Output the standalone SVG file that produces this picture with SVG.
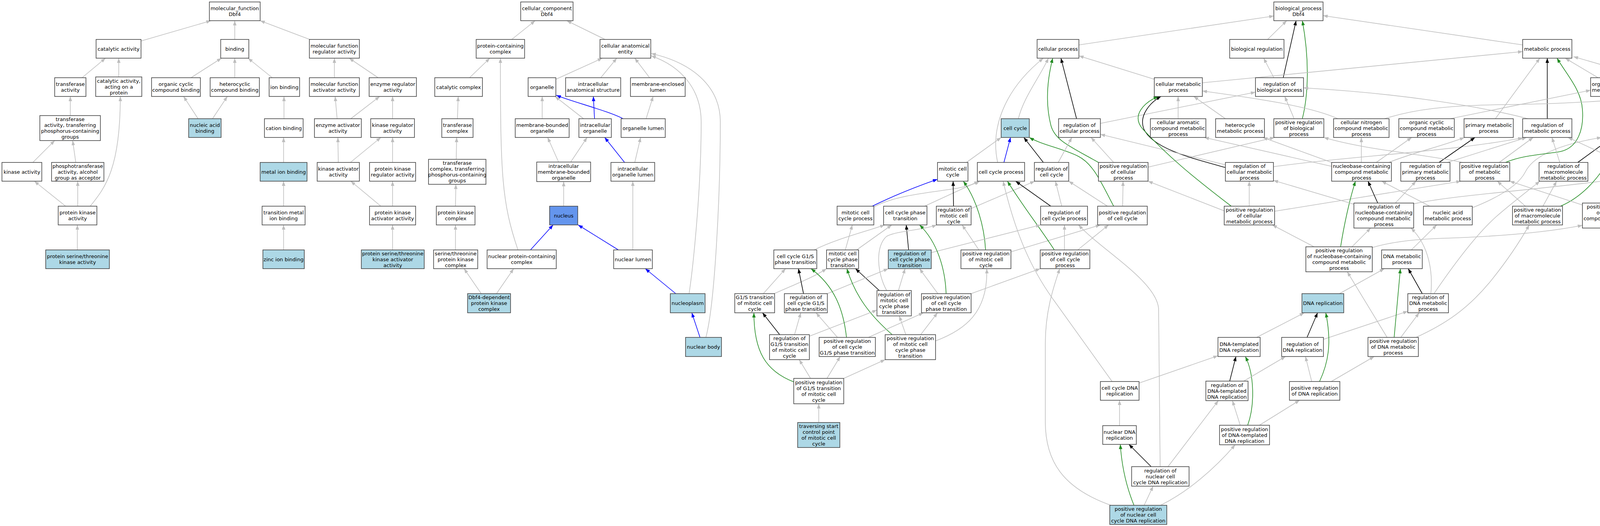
<svg xmlns="http://www.w3.org/2000/svg" width="4360" height="1347" viewBox="0 0 4360 1347">
<style>
.n rect{fill:#fff;stroke:#444;stroke-width:1.6}
.n.bl rect{fill:#add8e6}
.n.nu rect{fill:#6495ed}
text{font-family:"DejaVu Sans",sans-serif;font-size:13px;text-anchor:middle;fill:#000}
#edges path{fill:none;stroke-width:1.6}
#edges .g{stroke:#bebebe;marker-end:url(#mg)}
#edges .k{stroke:#000;marker-end:url(#mk)}
#edges .b{stroke:#0000ff;marker-end:url(#mb)}
#edges .gr{stroke:#228b22;marker-end:url(#mgr)}
</style>
<defs>
<marker id="mg" viewBox="0 0 12 9" refX="12" refY="4.5" markerWidth="12" markerHeight="9" markerUnits="userSpaceOnUse" orient="auto"><path d="M0,0 L12,4.5 L0,9 z" fill="#bebebe"/></marker>
<marker id="mk" viewBox="0 0 12 9" refX="12" refY="4.5" markerWidth="12" markerHeight="9" markerUnits="userSpaceOnUse" orient="auto"><path d="M0,0 L12,4.5 L0,9 z" fill="#000"/></marker>
<marker id="mb" viewBox="0 0 12 9" refX="12" refY="4.5" markerWidth="12" markerHeight="9" markerUnits="userSpaceOnUse" orient="auto"><path d="M0,0 L12,4.5 L0,9 z" fill="#0000ff"/></marker>
<marker id="mgr" viewBox="0 0 12 9" refX="12" refY="4.5" markerWidth="12" markerHeight="9" markerUnits="userSpaceOnUse" orient="auto"><path d="M0,0 L12,4.5 L0,9 z" fill="#228b22"/></marker>
</defs>
<rect width="4360" height="1347" fill="#fff"/>
<g id="edges">
<path class="g" d="M361,105 L540,53"/>
<path class="g" d="M601,101 L601,53"/>
<path class="g" d="M793,101 L666,53"/>
<path class="g" d="M210,199 L270,149"/>
<path class="g" d="M304,197 L304,149"/>
<path class="g" d="M489,199 L567,149"/>
<path class="g" d="M601,199 L601,149"/>
<path class="g" d="M697,199 L635,149"/>
<path class="g" d="M856,199 L856,149"/>
<path class="g" d="M968,199 L894,149"/>
<path class="g" d="M180,296 L180,247"/>
<path class="g" d="M507,304 L470,247"/>
<path class="g" d="M544,304 L582,247"/>
<path class="g" d="M727,304 L727,247"/>
<path class="g" d="M863,304 L858,247"/>
<path class="g" d="M898,304 L972,247"/>
<path class="g" d="M1005,304 L1005,247"/>
<path class="g" d="M84,416 L140,360"/>
<path class="g" d="M194,416 L186,360"/>
<path class="g" d="M726,416 L726,352"/>
<path class="g" d="M866,416 L865,352"/>
<path class="g" d="M897,416 L975,352"/>
<path class="g" d="M1005,416 L1005,352"/>
<path class="g" d="M168,528 L88,464"/>
<path class="g" d="M199,528 L199,464"/>
<path class="g" d="M231,528 C270,480 308,430 308,247"/>
<path class="g" d="M975,528 L898,464"/>
<path class="g" d="M1005,528 L1005,464"/>
<path class="g" d="M726,528 L726,464"/>
<path class="g" d="M198,640 L198,576"/>
<path class="g" d="M726,640 L726,576"/>
<path class="g" d="M1005,640 L1005,576"/>
<path class="g" d="M1310,101 L1370,53"/>
<path class="g" d="M1549,101 L1451,53"/>
<path class="g" d="M1202,199 L1254,149"/>
<path class="g" d="M1423,203 L1542,149"/>
<path class="g" d="M1538,199 L1579,149"/>
<path class="g" d="M1663,199 L1625,149"/>
<path class="g" d="M1171,304 L1173,247"/>
<path class="g" d="M1388,304 L1388,247"/>
<path class="g" d="M1494,304 L1421,247"/>
<path class="b" d="M1522,304 L1519,247"/>
<path class="b" d="M1595,304 C1560,285 1470,262 1424,244"/>
<path class="g" d="M1654,304 L1672,247"/>
<path class="g" d="M1168,408 L1169,352"/>
<path class="g" d="M1430,415 L1402,352"/>
<path class="g" d="M1461,415 L1503,352"/>
<path class="b" d="M1599,416 L1548,352"/>
<path class="g" d="M1625,416 L1640,352"/>
<path class="g" d="M1166,528 L1167,472"/>
<path class="g" d="M1443,528 L1443,465"/>
<path class="g" d="M1166,640 L1166,576"/>
<path class="g" d="M1326,640 C1285,520 1281,450 1281,149"/>
<path class="b" d="M1358,640 L1416,576"/>
<path class="b" d="M1583,640 L1480,576"/>
<path class="g" d="M1620,640 L1620,464"/>
<path class="g" d="M1232,752 L1188,688"/>
<path class="g" d="M1271,752 L1315,688"/>
<path class="b" d="M1730,752 L1652,688"/>
<path class="g" d="M1764,752 C1772,700 1795,500 1795,312 C1795,230 1745,170 1667,143"/>
<path class="b" d="M1792,864 L1771,801"/>
<path class="g" d="M1807,864 C1830,780 1844,500 1844,312 C1844,220 1770,160 1667,137"/>
<path class="g" d="M2762,115 L3261,41"/>
<path class="g" d="M3245,101 L3294,53"/>
<path class="g" d="M3898,115 L3387,40"/>
<path class="k" d="M3285,199 L3318,53"/>
<path class="g" d="M3261,199 L3235,149"/>
<path class="gr" d="M3334,304 C3350,240 3352,150 3334,53"/>
<path class="g" d="M3313,304 L3289,247"/>
<path class="g" d="M2955,203 L2762,143"/>
<path class="g" d="M3078,212 L3898,132"/>
<path class="g" d="M2607,304 C2620,250 2660,200 2684,149"/>
<path class="k" d="M2756,304 L2716,149"/>
<path class="g" d="M2817,316 L3214,236"/>
<path class="g" d="M3016,304 L3016,247"/>
<path class="g" d="M3137,304 L3056,247"/>
<path class="gr" d="M2812,416 C2740,375 2700,360 2690,320 C2675,260 2682,200 2695,149"/>
<path class="gr" d="M2851,528 C2820,470 2800,420 2760,400 C2720,380 2670,372 2635,352"/>
<path class="g" d="M2851,416 L2793,352"/>
<path class="g" d="M2939,428 L3263,352"/>
<path class="k" d="M3137,429 C3050,405 2950,380 2928,330 C2915,295 2945,262 2972,247"/>
<path class="g" d="M3137,422 L2817,344"/>
<path class="g" d="M3260,427 C3450,400 3700,390 3898,353"/>
<path class="g" d="M3198,528 L3198,464"/>
<path class="g" d="M3134,540 L2939,464"/>
<path class="gr" d="M3152,528 C3050,450 2990,400 2925,330 C2895,295 2930,262 2965,247"/>
<path class="g" d="M3263,541 L3740,464"/>
<path class="g" d="M2474,416 L2563,352"/>
<path class="b" d="M2570,416 L2587,352"/>
<path class="g" d="M2554,416 C2535,330 2570,230 2671,149"/>
<path class="k" d="M2671,416 L2621,352"/>
<path class="g" d="M2709,416 L2744,352"/>
<path class="g" d="M2835,528 L2736,464"/>
<path class="g" d="M2874,528 L2875,464"/>
<path class="b" d="M2233,528 C2290,500 2340,480 2400,459"/>
<path class="g" d="M2237,530 C2300,495 2420,490 2460,480 C2485,475 2497,470 2508,464"/>
<path class="g" d="M2367,528 L2506,464"/>
<path class="k" d="M2441,528 L2440,464"/>
<path class="g" d="M2486,534 L2649,464"/>
<path class="k" d="M2690,528 L2600,464"/>
<path class="g" d="M2718,528 L2702,464"/>
<path class="gr" d="M2523,640 C2520,580 2500,510 2466,464"/>
<path class="g" d="M2506,640 L2463,576"/>
<path class="g" d="M2588,645 L2817,576"/>
<path class="gr" d="M2699,640 C2660,580 2620,530 2579,464"/>
<path class="g" d="M2725,640 L2725,576"/>
<path class="g" d="M2759,640 L2838,576"/>
<path class="g" d="M2084,640 C2140,612 2210,595 2265,576"/>
<path class="g" d="M2193,640 L2283,576"/>
<path class="g" d="M2164,640 L2182,576"/>
<path class="k" d="M2326,640 L2320,576"/>
<path class="g" d="M2384,647 L2664,576"/>
<path class="k" d="M2251,744 L2190,688"/>
<path class="g" d="M2300,744 L2317,688"/>
<path class="g" d="M2270,744 C2245,700 2240,630 2270,605 C2300,590 2360,590 2398,576"/>
<path class="gr" d="M2422,752 C2420,690 2400,620 2354,576"/>
<path class="g" d="M2401,752 L2354,688"/>
<path class="g" d="M2486,752 L2663,688"/>
<path class="g" d="M1954,752 L2011,688"/>
<path class="g" d="M1982,752 C2030,730 2080,712 2116,688"/>
<path class="k" d="M2057,752 L2044,688"/>
<path class="g" d="M2118,752 L2274,688"/>
<path class="gr" d="M2284,857 C2230,810 2190,760 2168,688"/>
<path class="g" d="M2319,857 L2302,809"/>
<path class="g" d="M2357,857 L2400,801"/>
<path class="g" d="M2395,873 C2470,845 2530,800 2526,688"/>
<path class="k" d="M1996,857 L1952,801"/>
<path class="g" d="M2034,857 L2050,801"/>
<path class="g" d="M2072,861 L2245,794"/>
<path class="gr" d="M2167,864 C2160,800 2140,735 2076,688"/>
<path class="g" d="M2144,864 L2089,801"/>
<path class="g" d="M2223,864 L2364,801"/>
<path class="gr" d="M2032,978 C1960,950 1930,900 1930,801"/>
<path class="g" d="M2075,969 L2046,921"/>
<path class="g" d="M2117,969 L2151,913"/>
<path class="g" d="M2160,969 L2266,921"/>
<path class="g" d="M2096,1082 L2096,1034"/>
<path class="g" d="M2847,977 L2700,772 C2640,690 2600,600 2568,464"/>
<path class="g" d="M2866,1090 L2866,1025"/>
<path class="g" d="M2916,981 L3118,911"/>
<path class="k" d="M3148,976 L3164,913"/>
<path class="gr" d="M3194,1089 C3212,1040 3212,960 3188,913"/>
<path class="g" d="M3175,1089 L3155,1026"/>
<path class="k" d="M2947,1195 L2890,1138"/>
<path class="g" d="M2990,1195 L3119,1026"/>
<path class="g" d="M2970,1195 L2966,790 C2960,720 2820,640 2761,576"/>
<path class="gr" d="M2903,1294 C2885,1250 2872,1200 2868,1138"/>
<path class="g" d="M2929,1294 L2952,1245"/>
<path class="g" d="M2971,1294 C3040,1260 3110,1200 3162,1139"/>
<path class="g" d="M2844,1294 C2720,1250 2676,1180 2676,1080 L2676,880 C2676,800 2695,740 2713,688"/>
<path class="g" d="M3217,864 L3339,801"/>
<path class="g" d="M3184,976 L3291,913"/>
<path class="g" d="M3224,1089 L3327,1025"/>
<path class="k" d="M3346,864 L3373,801"/>
<path class="g" d="M3388,869 L3604,797"/>
<path class="gr" d="M3378,977 C3400,930 3410,880 3394,801"/>
<path class="g" d="M3358,977 L3342,913"/>
<path class="g" d="M3408,977 L3518,913"/>
<path class="g" d="M3429,752 L3544,688"/>
<path class="k" d="M3641,752 L3605,688"/>
<path class="gr" d="M3569,864 L3585,688"/>
<path class="g" d="M3586,864 L3633,801"/>
<path class="g" d="M3551,864 L3449,696"/>
<path class="g" d="M3625,864 C3700,830 3760,790 3820,715 C3860,665 3890,620 3915,576"/>
<path class="g" d="M3671,752 C3720,680 3780,600 3830,555 C3870,520 3910,490 3942,464"/>
<path class="g" d="M3663,752 C3668,700 3660,630 3612,584"/>
<path class="g" d="M3613,640 L3678,576"/>
<path class="gr" d="M3432,632 C3440,580 3455,510 3470,464"/>
<path class="g" d="M3461,632 L3509,584"/>
<path class="g" d="M3364,632 L3257,576"/>
<path class="g" d="M3513,634 C3560,620 3620,612 3700,610 C3850,605 3960,595 4051,577"/>
<path class="k" d="M3527,520 L3502,464"/>
<path class="g" d="M3466,523 L3260,462"/>
<path class="g" d="M3572,520 L3625,464"/>
<path class="g" d="M3619,522 C3720,500 3900,490 4140,459"/>
<path class="g" d="M3660,528 L3537,464"/>
<path class="g" d="M3769,532 C3850,500 3890,470 3905,440 C3925,400 3990,370 4100,352"/>
<path class="gr" d="M3995,528 C4060,500 4110,440 4148,352"/>
<path class="g" d="M3950,528 L3985,464"/>
<path class="g" d="M3905,528 L3833,464"/>
<path class="gr" d="M4194,534 C4280,500 4320,440 4320,370 C4320,320 4310,280 4298,247"/>
<path class="g" d="M4147,520 L4186,464"/>
<path class="g" d="M4051,525 L3865,464"/>
<path class="g" d="M4091,199 L4007,149"/>
<path class="g" d="M4221,201 L4028,145"/>
<path class="g" d="M3828,304 L3942,149"/>
<path class="k" d="M3961,304 L3961,149"/>
<path class="gr" d="M3854,416 C3900,396 3960,395 3995,388 C4040,378 4055,330 4051,280 C4048,230 4010,190 3986,149"/>
<path class="g" d="M3912,304 C3800,275 3600,240 3337,225"/>
<path class="g" d="M3425,304 C3350,270 3200,250 3078,233"/>
<path class="g" d="M3544,304 C3620,280 3700,270 3850,268 C4000,266 4150,258 4222,246"/>
<path class="g" d="M3712,304 L4072,231"/>
<path class="g" d="M4154,304 L4142,247"/>
<path class="k" d="M3684,416 L3776,352"/>
<path class="g" d="M3705,416 L3908,352"/>
<path class="k" d="M4039,416 L4127,352"/>
<path class="g" d="M3993,416 L3973,352"/>
<path class="k" d="M4216,416 L4276,247"/>
<path class="g" d="M4153,416 L4014,352"/>
<path class="g" d="M3838,416 L3925,352"/>
<path class="g" d="M3744,416 C3650,395 3500,385 3389,352"/>
<path class="g" d="M3485,416 L3485,352"/>
<path class="g" d="M3523,416 L3614,352"/>
<path class="g" d="M3555,416 C3620,390 3690,375 3749,352"/>
<path class="g" d="M3409,426 L3083,352"/>
<path class="g" d="M3409,416 L3233,352"/>
</g>
<g id="n_mf" class="n"><rect x="536" y="5" width="130" height="48"/><text x="601" y="26"><tspan x="601">molecular_function</tspan><tspan x="601" dy="15">Dbf4</tspan></text></g>
<g id="n_catalytic" class="n"><rect x="246" y="101" width="115" height="48"/><text x="303.5" y="129.5">catalytic activity</text></g>
<g id="n_binding" class="n"><rect x="565" y="101" width="72" height="48"/><text x="601" y="129.5">binding</text></g>
<g id="n_mfreg" class="n"><rect x="792" y="101" width="128" height="48"/><text x="856" y="122"><tspan x="856">molecular function</tspan><tspan x="856" dy="15">regulator activity</tspan></text></g>
<g id="n_transferase" class="n"><rect x="140" y="199" width="80" height="48"/><text x="180" y="220"><tspan x="180">transferase</tspan><tspan x="180" dy="15">activity</tspan></text></g>
<g id="n_catprot" class="n"><rect x="245" y="197" width="118" height="50"/><text x="304" y="211.5"><tspan x="304">catalytic activity,</tspan><tspan x="304" dy="15">acting on a</tspan><tspan x="304" dy="15">protein</tspan></text></g>
<g id="n_orgcycbind" class="n"><rect x="388" y="199" width="125" height="48"/><text x="450.5" y="220"><tspan x="450.5">organic cyclic</tspan><tspan x="450.5" dy="15">compound binding</tspan></text></g>
<g id="n_hetcycbind" class="n"><rect x="538" y="199" width="126" height="48"/><text x="601" y="220"><tspan x="601">heterocyclic</tspan><tspan x="601" dy="15">compound binding</tspan></text></g>
<g id="n_ionbind" class="n"><rect x="689" y="199" width="78" height="48"/><text x="728" y="227.5">ion binding</text></g>
<g id="n_mfact" class="n"><rect x="792" y="199" width="128" height="48"/><text x="856" y="220"><tspan x="856">molecular function</tspan><tspan x="856" dy="15">activator activity</tspan></text></g>
<g id="n_enzreg" class="n"><rect x="945" y="199" width="121" height="48"/><text x="1005.5" y="220"><tspan x="1005.5">enzyme regulator</tspan><tspan x="1005.5" dy="15">activity</tspan></text></g>
<g id="n_transphos" class="n"><rect x="102" y="296" width="155" height="64"/><text x="179.5" y="310"><tspan x="179.5">transferase</tspan><tspan x="179.5" dy="15">activity, transferring</tspan><tspan x="179.5" dy="15">phosphorus-containing</tspan><tspan x="179.5" dy="15">groups</tspan></text></g>
<g id="n_nucacidbind" class="n bl"><rect x="483" y="304" width="83" height="48"/><text x="524.5" y="325"><tspan x="524.5">nucleic acid</tspan><tspan x="524.5" dy="15">binding</tspan></text></g>
<g id="n_cation" class="n"><rect x="677" y="304" width="99" height="48"/><text x="726.5" y="332.5">cation binding</text></g>
<g id="n_enzact" class="n"><rect x="805" y="304" width="120" height="48"/><text x="865" y="325"><tspan x="865">enzyme activator</tspan><tspan x="865" dy="15">activity</tspan></text></g>
<g id="n_kinreg" class="n"><rect x="949" y="304" width="112" height="48"/><text x="1005" y="325"><tspan x="1005">kinase regulator</tspan><tspan x="1005" dy="15">activity</tspan></text></g>
<g id="n_kinase" class="n"><rect x="5" y="416" width="102" height="48"/><text x="56" y="444.5">kinase activity</text></g>
<g id="n_phosphotrans" class="n"><rect x="132" y="416" width="134" height="48"/><text x="199" y="429.5"><tspan x="199">phosphotransferase</tspan><tspan x="199" dy="15">activity, alcohol</tspan><tspan x="199" dy="15">group as acceptor</tspan></text></g>
<g id="n_metal" class="n bl"><rect x="666" y="416" width="120" height="48"/><text x="726" y="444.5">metal ion binding</text></g>
<g id="n_kinact" class="n"><rect x="812" y="416" width="108" height="48"/><text x="866" y="437"><tspan x="866">kinase activator</tspan><tspan x="866" dy="15">activity</tspan></text></g>
<g id="n_pkreg" class="n"><rect x="946" y="416" width="118" height="48"/><text x="1005" y="437"><tspan x="1005">protein kinase</tspan><tspan x="1005" dy="15">regulator activity</tspan></text></g>
<g id="n_pk" class="n"><rect x="149" y="528" width="99" height="48"/><text x="198.5" y="549"><tspan x="198.5">protein kinase</tspan><tspan x="198.5" dy="15">activity</tspan></text></g>
<g id="n_transmetal" class="n"><rect x="671" y="528" width="110" height="48"/><text x="726" y="549"><tspan x="726">transition metal</tspan><tspan x="726" dy="15">ion binding</tspan></text></g>
<g id="n_pkact" class="n"><rect x="946" y="528" width="118" height="48"/><text x="1005" y="549"><tspan x="1005">protein kinase</tspan><tspan x="1005" dy="15">activator activity</tspan></text></g>
<g id="n_pstk" class="n bl"><rect x="117" y="640" width="163" height="48"/><text x="198.5" y="661"><tspan x="198.5">protein serine/threonine</tspan><tspan x="198.5" dy="15">kinase activity</tspan></text></g>
<g id="n_zinc" class="n bl"><rect x="673" y="640" width="106" height="48"/><text x="726" y="668.5">zinc ion binding</text></g>
<g id="n_pstkact" class="n bl"><rect x="925" y="640" width="161" height="48"/><text x="1005.5" y="653.5"><tspan x="1005.5">protein serine/threonine</tspan><tspan x="1005.5" dy="15">kinase activator</tspan><tspan x="1005.5" dy="15">activity</tspan></text></g>
<g id="n_cc_root" class="n"><rect x="1333" y="5" width="134" height="48"/><text x="1400" y="26"><tspan x="1400">cellular_component</tspan><tspan x="1400" dy="15">Dbf4</tspan></text></g>
<g id="n_pcc" class="n"><rect x="1219" y="101" width="124" height="48"/><text x="1281" y="122"><tspan x="1281">protein-containing</tspan><tspan x="1281" dy="15">complex</tspan></text></g>
<g id="n_cae" class="n"><rect x="1536" y="101" width="130" height="48"/><text x="1601" y="122"><tspan x="1601">cellular anatomical</tspan><tspan x="1601" dy="15">entity</tspan></text></g>
<g id="n_catcomplex" class="n"><rect x="1113" y="199" width="122" height="48"/><text x="1174" y="227.5">catalytic complex</text></g>
<g id="n_organelle" class="n"><rect x="1352" y="199" width="71" height="48"/><text x="1387.5" y="227.5">organelle</text></g>
<g id="n_ias" class="n"><rect x="1448" y="199" width="141" height="48"/><text x="1518.5" y="220"><tspan x="1518.5">intracellular</tspan><tspan x="1518.5" dy="15">anatomical structure</tspan></text></g>
<g id="n_mel" class="n"><rect x="1614" y="199" width="140" height="48"/><text x="1684" y="220"><tspan x="1684">membrane-enclosed</tspan><tspan x="1684" dy="15">lumen</tspan></text></g>
<g id="n_transcomplex" class="n"><rect x="1131" y="304" width="80" height="48"/><text x="1171" y="325"><tspan x="1171">transferase</tspan><tspan x="1171" dy="15">complex</tspan></text></g>
<g id="n_mbo" class="n"><rect x="1319" y="304" width="138" height="48"/><text x="1388" y="325"><tspan x="1388">membrane-bounded</tspan><tspan x="1388" dy="15">organelle</tspan></text></g>
<g id="n_io" class="n"><rect x="1482" y="304" width="83" height="48"/><text x="1523.5" y="325"><tspan x="1523.5">intracellular</tspan><tspan x="1523.5" dy="15">organelle</tspan></text></g>
<g id="n_ol" class="n"><rect x="1590" y="304" width="113" height="48"/><text x="1646.5" y="332.5">organelle lumen</text></g>
<g id="n_tcphos" class="n"><rect x="1097" y="408" width="147" height="64"/><text x="1170.5" y="422"><tspan x="1170.5">transferase</tspan><tspan x="1170.5" dy="15">complex, transferring</tspan><tspan x="1170.5" dy="15">phosphorus-containing</tspan><tspan x="1170.5" dy="15">groups</tspan></text></g>
<g id="n_imbo" class="n"><rect x="1374" y="415" width="138" height="50"/><text x="1443" y="429.5"><tspan x="1443">intracellular</tspan><tspan x="1443" dy="15">membrane-bounded</tspan><tspan x="1443" dy="15">organelle</tspan></text></g>
<g id="n_iol" class="n"><rect x="1564" y="416" width="112" height="48"/><text x="1620" y="437"><tspan x="1620">intracellular</tspan><tspan x="1620" dy="15">organelle lumen</tspan></text></g>
<g id="n_pkc" class="n"><rect x="1117" y="528" width="99" height="48"/><text x="1166.5" y="549"><tspan x="1166.5">protein kinase</tspan><tspan x="1166.5" dy="15">complex</tspan></text></g>
<g id="n_nucleus" class="n nu"><rect x="1407" y="528" width="72" height="48"/><text x="1443" y="556.5">nucleus</text></g>
<g id="n_stpkc" class="n"><rect x="1110" y="640" width="113" height="48"/><text x="1166.5" y="653.5"><tspan x="1166.5">serine/threonine</tspan><tspan x="1166.5" dy="15">protein kinase</tspan><tspan x="1166.5" dy="15">complex</tspan></text></g>
<g id="n_npcc" class="n"><rect x="1247" y="640" width="177" height="48"/><text x="1335.5" y="661"><tspan x="1335.5">nuclear protein-containing</tspan><tspan x="1335.5" dy="15">complex</tspan></text></g>
<g id="n_nlumen" class="n"><rect x="1571" y="640" width="99" height="48"/><text x="1620.5" y="668.5">nuclear lumen</text></g>
<g id="n_dbf4c" class="n bl"><rect x="1197" y="752" width="110" height="49"/><text x="1252" y="766"><tspan x="1252">Dbf4-dependent</tspan><tspan x="1252" dy="15">protein kinase</tspan><tspan x="1252" dy="15">complex</tspan></text></g>
<g id="n_nucleoplasm" class="n bl"><rect x="1716" y="752" width="89" height="49"/><text x="1760.5" y="781">nucleoplasm</text></g>
<g id="n_nbody" class="n bl"><rect x="1755" y="864" width="92" height="49"/><text x="1801" y="893">nuclear body</text></g>
<g id="n_bp_root" class="n"><rect x="3261" y="5" width="126" height="48"/><text x="3324" y="26"><tspan x="3324">biological_process</tspan><tspan x="3324" dy="15">Dbf4</tspan></text></g>
<g id="n_cp" class="n"><rect x="2655" y="101" width="107" height="48"/><text x="2708.5" y="129.5">cellular process</text></g>
<g id="n_bioreg" class="n"><rect x="3148" y="101" width="139" height="48"/><text x="3217.5" y="129.5">biological regulation</text></g>
<g id="n_mp" class="n"><rect x="3898" y="101" width="126" height="48"/><text x="3961" y="129.5">metabolic process</text></g>
<g id="n_cmp" class="n"><rect x="2955" y="199" width="123" height="48"/><text x="3016.5" y="220"><tspan x="3016.5">cellular metabolic</tspan><tspan x="3016.5" dy="15">process</tspan></text></g>
<g id="n_rbp" class="n"><rect x="3214" y="199" width="123" height="48"/><text x="3275.5" y="220"><tspan x="3275.5">regulation of</tspan><tspan x="3275.5" dy="15">biological process</tspan></text></g>
<g id="n_osmp" class="n"><rect x="4072" y="199" width="125" height="48"/><text x="4134.5" y="220"><tspan x="4134.5">organic substance</tspan><tspan x="4134.5" dy="15">metabolic process</tspan></text></g>
<g id="n_ncmp" class="n"><rect x="4222" y="199" width="131" height="48"/><text x="4287.5" y="220"><tspan x="4287.5">nitrogen compound</tspan><tspan x="4287.5" dy="15">metabolic process</tspan></text></g>
<g id="n_cc" class="n bl"><rect x="2563" y="304" width="72" height="48"/><text x="2599" y="332.5">cell cycle</text></g>
<g id="n_rcp" class="n"><rect x="2710" y="304" width="107" height="48"/><text x="2763.5" y="325"><tspan x="2763.5">regulation of</tspan><tspan x="2763.5" dy="15">cellular process</tspan></text></g>
<g id="n_camp" class="n"><rect x="2945" y="304" width="142" height="48"/><text x="3016" y="317.5"><tspan x="3016">cellular aromatic</tspan><tspan x="3016" dy="15">compound metabolic</tspan><tspan x="3016" dy="15">process</tspan></text></g>
<g id="n_hmp" class="n"><rect x="3112" y="304" width="125" height="48"/><text x="3174.5" y="325"><tspan x="3174.5">heterocycle</tspan><tspan x="3174.5" dy="15">metabolic process</tspan></text></g>
<g id="n_prbp" class="n"><rect x="3261" y="304" width="128" height="48"/><text x="3325" y="317.5"><tspan x="3325">positive regulation</tspan><tspan x="3325" dy="15">of biological</tspan><tspan x="3325" dy="15">process</tspan></text></g>
<g id="n_cncmp" class="n"><rect x="3414" y="304" width="142" height="48"/><text x="3485" y="317.5"><tspan x="3485">cellular nitrogen</tspan><tspan x="3485" dy="15">compound metabolic</tspan><tspan x="3485" dy="15">process</tspan></text></g>
<g id="n_occmp" class="n"><rect x="3581" y="304" width="142" height="48"/><text x="3652" y="317.5"><tspan x="3652">organic cyclic</tspan><tspan x="3652" dy="15">compound metabolic</tspan><tspan x="3652" dy="15">process</tspan></text></g>
<g id="n_pmp" class="n"><rect x="3748" y="304" width="126" height="48"/><text x="3811" y="325"><tspan x="3811">primary metabolic</tspan><tspan x="3811" dy="15">process</tspan></text></g>
<g id="n_rmp" class="n"><rect x="3898" y="304" width="126" height="48"/><text x="3961" y="325"><tspan x="3961">regulation of</tspan><tspan x="3961" dy="15">metabolic process</tspan></text></g>
<g id="n_mmp" class="n"><rect x="4099" y="304" width="125" height="48"/><text x="4161.5" y="325"><tspan x="4161.5">macromolecule</tspan><tspan x="4161.5" dy="15">metabolic process</tspan></text></g>
<g id="n_mcc" class="n"><rect x="2400" y="416" width="78" height="48"/><text x="2439" y="437"><tspan x="2439">mitotic cell</tspan><tspan x="2439" dy="15">cycle</tspan></text></g>
<g id="n_ccp" class="n"><rect x="2502" y="416" width="121" height="48"/><text x="2562.5" y="444.5">cell cycle process</text></g>
<g id="n_rcc" class="n"><rect x="2648" y="416" width="88" height="48"/><text x="2692" y="437"><tspan x="2692">regulation of</tspan><tspan x="2692" dy="15">cell cycle</tspan></text></g>
<g id="n_prcp" class="n"><rect x="2812" y="416" width="127" height="48"/><text x="2875.5" y="429.5"><tspan x="2875.5">positive regulation</tspan><tspan x="2875.5" dy="15">of cellular</tspan><tspan x="2875.5" dy="15">process</tspan></text></g>
<g id="n_rcmp" class="n"><rect x="3137" y="416" width="123" height="48"/><text x="3198.5" y="429.5"><tspan x="3198.5">regulation of</tspan><tspan x="3198.5" dy="15">cellular metabolic</tspan><tspan x="3198.5" dy="15">process</tspan></text></g>
<g id="n_nbcmp" class="n"><rect x="3409" y="416" width="153" height="48"/><text x="3485.5" y="429.5"><tspan x="3485.5">nucleobase-containing</tspan><tspan x="3485.5" dy="15">compound metabolic</tspan><tspan x="3485.5" dy="15">process</tspan></text></g>
<g id="n_rpmp" class="n"><rect x="3586" y="416" width="126" height="48"/><text x="3649" y="429.5"><tspan x="3649">regulation of</tspan><tspan x="3649" dy="15">primary metabolic</tspan><tspan x="3649" dy="15">process</tspan></text></g>
<g id="n_prmp" class="n"><rect x="3737" y="416" width="128" height="48"/><text x="3801" y="429.5"><tspan x="3801">positive regulation</tspan><tspan x="3801" dy="15">of metabolic</tspan><tspan x="3801" dy="15">process</tspan></text></g>
<g id="n_rmmp" class="n"><rect x="3940" y="416" width="125" height="48"/><text x="4002.5" y="429.5"><tspan x="4002.5">regulation of</tspan><tspan x="4002.5" dy="15">macromolecule</tspan><tspan x="4002.5" dy="15">metabolic process</tspan></text></g>
<g id="n_rncmp" class="n"><rect x="4140" y="416" width="132" height="48"/><text x="4206" y="429.5"><tspan x="4206">regulation of</tspan><tspan x="4206" dy="15">nitrogen compound</tspan><tspan x="4206" dy="15">metabolic process</tspan></text></g>
<g id="n_mccp" class="n"><rect x="2143" y="528" width="94" height="48"/><text x="2190" y="549"><tspan x="2190">mitotic cell</tspan><tspan x="2190" dy="15">cycle process</tspan></text></g>
<g id="n_ccpt" class="n"><rect x="2262" y="528" width="111" height="48"/><text x="2317.5" y="549"><tspan x="2317.5">cell cycle phase</tspan><tspan x="2317.5" dy="15">transition</tspan></text></g>
<g id="n_rmcc" class="n"><rect x="2397" y="528" width="89" height="48"/><text x="2441.5" y="541.5"><tspan x="2441.5">regulation of</tspan><tspan x="2441.5" dy="15">mitotic cell</tspan><tspan x="2441.5" dy="15">cycle</tspan></text></g>
<g id="n_rccp" class="n"><rect x="2664" y="528" width="120" height="48"/><text x="2724" y="549"><tspan x="2724">regulation of</tspan><tspan x="2724" dy="15">cell cycle process</tspan></text></g>
<g id="n_prcc" class="n"><rect x="2810" y="528" width="127" height="48"/><text x="2873.5" y="549"><tspan x="2873.5">positive regulation</tspan><tspan x="2873.5" dy="15">of cell cycle</tspan></text></g>
<g id="n_prcmp" class="n"><rect x="3134" y="528" width="129" height="48"/><text x="3198.5" y="541.5"><tspan x="3198.5">positive regulation</tspan><tspan x="3198.5" dy="15">of cellular</tspan><tspan x="3198.5" dy="15">metabolic process</tspan></text></g>
<g id="n_rnbcmp" class="n"><rect x="3466" y="520" width="153" height="64"/><text x="3542.5" y="534"><tspan x="3542.5">regulation of</tspan><tspan x="3542.5" dy="15">nucleobase-containing</tspan><tspan x="3542.5" dy="15">compound metabolic</tspan><tspan x="3542.5" dy="15">process</tspan></text></g>
<g id="n_namp" class="n"><rect x="3644" y="528" width="125" height="48"/><text x="3706.5" y="549"><tspan x="3706.5">nucleic acid</tspan><tspan x="3706.5" dy="15">metabolic process</tspan></text></g>
<g id="n_prmmp" class="n"><rect x="3872" y="528" width="128" height="48"/><text x="3936" y="541.5"><tspan x="3936">positive regulation</tspan><tspan x="3936" dy="15">of macromolecule</tspan><tspan x="3936" dy="15">metabolic process</tspan></text></g>
<g id="n_prncmp" class="n"><rect x="4051" y="520" width="143" height="64"/><text x="4122.5" y="534"><tspan x="4122.5">positive regulation</tspan><tspan x="4122.5" dy="15">of nitrogen</tspan><tspan x="4122.5" dy="15">compound metabolic</tspan><tspan x="4122.5" dy="15">process</tspan></text></g>
<g id="n_ccg1s" class="n"><rect x="1981" y="640" width="110" height="48"/><text x="2036" y="661"><tspan x="2036">cell cycle G1/S</tspan><tspan x="2036" dy="15">phase transition</tspan></text></g>
<g id="n_mccpt" class="n"><rect x="2116" y="640" width="82" height="48"/><text x="2157" y="653.5"><tspan x="2157">mitotic cell</tspan><tspan x="2157" dy="15">cycle phase</tspan><tspan x="2157" dy="15">transition</tspan></text></g>
<g id="n_rccpt" class="n bl"><rect x="2274" y="640" width="110" height="48"/><text x="2329" y="653.5"><tspan x="2329">regulation of</tspan><tspan x="2329" dy="15">cell cycle phase</tspan><tspan x="2329" dy="15">transition</tspan></text></g>
<g id="n_prmcc" class="n"><rect x="2460" y="640" width="128" height="48"/><text x="2524" y="653.5"><tspan x="2524">positive regulation</tspan><tspan x="2524" dy="15">of mitotic cell</tspan><tspan x="2524" dy="15">cycle</tspan></text></g>
<g id="n_prccp" class="n"><rect x="2663" y="640" width="127" height="48"/><text x="2726.5" y="653.5"><tspan x="2726.5">positive regulation</tspan><tspan x="2726.5" dy="15">of cell cycle</tspan><tspan x="2726.5" dy="15">process</tspan></text></g>
<g id="n_prnbcmp" class="n"><rect x="3343" y="632" width="170" height="64"/><text x="3428" y="646"><tspan x="3428">positive regulation</tspan><tspan x="3428" dy="15">of nucleobase-containing</tspan><tspan x="3428" dy="15">compound metabolic</tspan><tspan x="3428" dy="15">process</tspan></text></g>
<g id="n_dmp" class="n"><rect x="3537" y="640" width="104" height="48"/><text x="3589" y="661"><tspan x="3589">DNA metabolic</tspan><tspan x="3589" dy="15">process</tspan></text></g>
<g id="n_g1smcc" class="n"><rect x="1881" y="752" width="102" height="49"/><text x="1932" y="766"><tspan x="1932">G1/S transition</tspan><tspan x="1932" dy="15">of mitotic cell</tspan><tspan x="1932" dy="15">cycle</tspan></text></g>
<g id="n_rccg1s" class="n"><rect x="2008" y="752" width="110" height="49"/><text x="2063" y="766"><tspan x="2063">regulation of</tspan><tspan x="2063" dy="15">cell cycle G1/S</tspan><tspan x="2063" dy="15">phase transition</tspan></text></g>
<g id="n_rmccpt" class="n"><rect x="2245" y="744" width="88" height="65"/><text x="2289" y="758.5"><tspan x="2289">regulation of</tspan><tspan x="2289" dy="15">mitotic cell</tspan><tspan x="2289" dy="15">cycle phase</tspan><tspan x="2289" dy="15">transition</tspan></text></g>
<g id="n_prccpt" class="n"><rect x="2359" y="752" width="127" height="49"/><text x="2422.5" y="766"><tspan x="2422.5">positive regulation</tspan><tspan x="2422.5" dy="15">of cell cycle</tspan><tspan x="2422.5" dy="15">phase transition</tspan></text></g>
<g id="n_dr" class="n bl"><rect x="3333" y="752" width="107" height="49"/><text x="3386.5" y="781">DNA replication</text></g>
<g id="n_rdmp" class="n"><rect x="3604" y="752" width="104" height="49"/><text x="3656" y="766"><tspan x="3656">regulation of</tspan><tspan x="3656" dy="15">DNA metabolic</tspan><tspan x="3656" dy="15">process</tspan></text></g>
<g id="n_rg1s" class="n"><rect x="1970" y="857" width="102" height="64"/><text x="2021" y="871"><tspan x="2021">regulation of</tspan><tspan x="2021" dy="15">G1/S transition</tspan><tspan x="2021" dy="15">of mitotic cell</tspan><tspan x="2021" dy="15">cycle</tspan></text></g>
<g id="n_prccg1s" class="n"><rect x="2097" y="864" width="144" height="49"/><text x="2169" y="878"><tspan x="2169">positive regulation</tspan><tspan x="2169" dy="15">of cell cycle</tspan><tspan x="2169" dy="15">G1/S phase transition</tspan></text></g>
<g id="n_prmccpt" class="n"><rect x="2266" y="857" width="129" height="64"/><text x="2330.5" y="871"><tspan x="2330.5">positive regulation</tspan><tspan x="2330.5" dy="15">of mitotic cell</tspan><tspan x="2330.5" dy="15">cycle phase</tspan><tspan x="2330.5" dy="15">transition</tspan></text></g>
<g id="n_dtdr" class="n"><rect x="3118" y="864" width="108" height="49"/><text x="3172" y="885.5"><tspan x="3172">DNA-templated</tspan><tspan x="3172" dy="15">DNA replication</tspan></text></g>
<g id="n_rdr" class="n"><rect x="3281" y="864" width="107" height="49"/><text x="3334.5" y="885.5"><tspan x="3334.5">regulation of</tspan><tspan x="3334.5" dy="15">DNA replication</tspan></text></g>
<g id="n_prdmp" class="n"><rect x="3502" y="864" width="129" height="49"/><text x="3566.5" y="878"><tspan x="3566.5">positive regulation</tspan><tspan x="3566.5" dy="15">of DNA metabolic</tspan><tspan x="3566.5" dy="15">process</tspan></text></g>
<g id="n_prg1s" class="n"><rect x="2032" y="969" width="128" height="65"/><text x="2096" y="983.5"><tspan x="2096">positive regulation</tspan><tspan x="2096" dy="15">of G1/S transition</tspan><tspan x="2096" dy="15">of mitotic cell</tspan><tspan x="2096" dy="15">cycle</tspan></text></g>
<g id="n_ccdr" class="n"><rect x="2817" y="977" width="99" height="48"/><text x="2866.5" y="998"><tspan x="2866.5">cell cycle DNA</tspan><tspan x="2866.5" dy="15">replication</tspan></text></g>
<g id="n_rdtdr" class="n"><rect x="3087" y="976" width="108" height="50"/><text x="3141" y="990.5"><tspan x="3141">regulation of</tspan><tspan x="3141" dy="15">DNA-templated</tspan><tspan x="3141" dy="15">DNA replication</tspan></text></g>
<g id="n_prdr" class="n"><rect x="3301" y="977" width="129" height="48"/><text x="3365.5" y="998"><tspan x="3365.5">positive regulation</tspan><tspan x="3365.5" dy="15">of DNA replication</tspan></text></g>
<g id="n_tsc" class="n bl"><rect x="2042" y="1082" width="108" height="64"/><text x="2096" y="1096"><tspan x="2096">traversing start</tspan><tspan x="2096" dy="15">control point</tspan><tspan x="2096" dy="15">of mitotic cell</tspan><tspan x="2096" dy="15">cycle</tspan></text></g>
<g id="n_ndr" class="n"><rect x="2823" y="1090" width="86" height="48"/><text x="2866" y="1111"><tspan x="2866">nuclear DNA</tspan><tspan x="2866" dy="15">replication</tspan></text></g>
<g id="n_prdtdr" class="n"><rect x="3122" y="1089" width="128" height="50"/><text x="3186" y="1103.5"><tspan x="3186">positive regulation</tspan><tspan x="3186" dy="15">of DNA-templated</tspan><tspan x="3186" dy="15">DNA replication</tspan></text></g>
<g id="n_rnccdr" class="n"><rect x="2897" y="1195" width="147" height="50"/><text x="2970.5" y="1209.5"><tspan x="2970.5">regulation of</tspan><tspan x="2970.5" dy="15">nuclear cell</tspan><tspan x="2970.5" dy="15">cycle DNA replication</tspan></text></g>
<g id="n_prnccdr" class="n bl"><rect x="2841" y="1294" width="146" height="49"/><text x="2914" y="1308"><tspan x="2914">positive regulation</tspan><tspan x="2914" dy="15">of nuclear cell</tspan><tspan x="2914" dy="15">cycle DNA replication</tspan></text></g>
</svg>
